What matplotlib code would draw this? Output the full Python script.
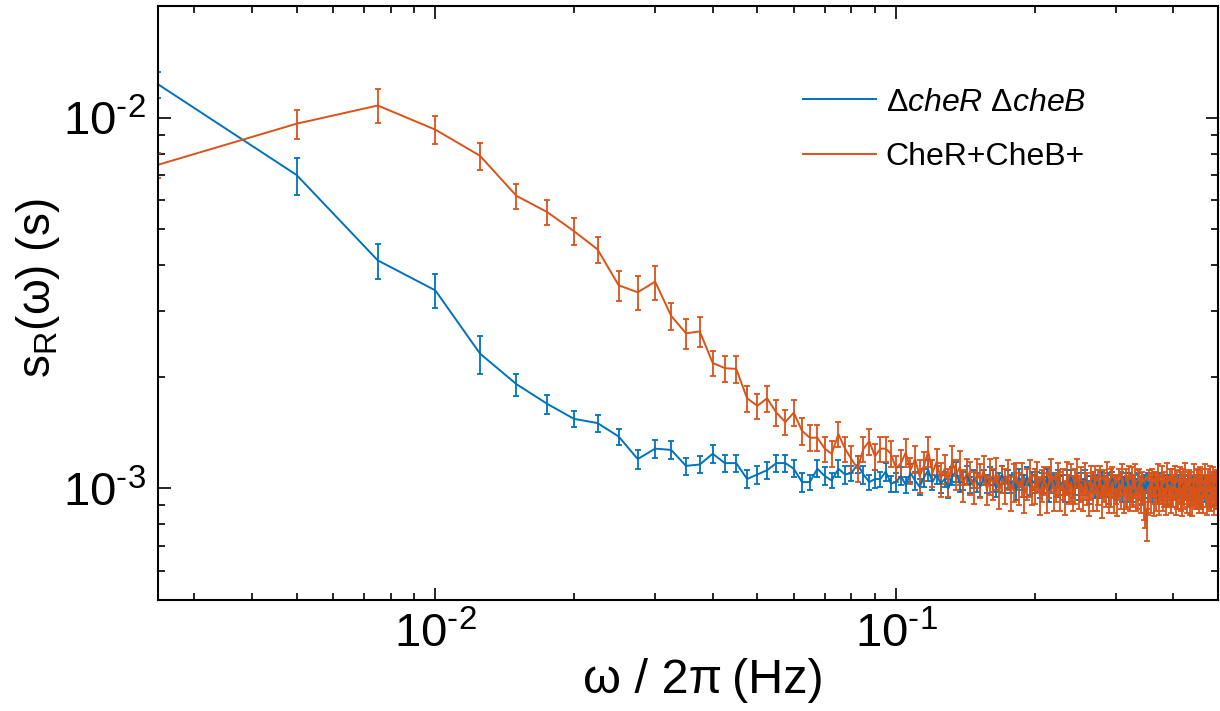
#!/usr/bin/env python3
"""
Response spectra s_R(omega) for the two strains, log-log with error bars.
"""

import numpy as np
import matplotlib
matplotlib.use('Agg')
import matplotlib.pyplot as plt
from matplotlib.ticker import FuncFormatter, NullFormatter

# frequency grid: omega/2pi = k * 0.0025 Hz, k = 1..200
FREQ_STEP = 0.0025
N_BINS = 200

# spectra and errors, in units of 1e-3 s
UNIT = 1e-3

delta_mean = [
    12.3, 7.00, 4.12, 3.42, 2.31, 1.91, 1.69, 1.54, 1.50, 1.38,
    1.20, 1.28, 1.27, 1.15, 1.16, 1.24, 1.17, 1.17, 1.06, 1.09,
    1.12, 1.17, 1.17, 1.13, 1.04, 1.04, 1.13, 1.08, 1.05, 1.13,
    1.09, 1.10, 1.16, 1.09, 1.04, 1.06, 1.06, 1.11, 1.03, 1.04,
    1.08, 1.02, 1.10, 1.05, 1.01, 1.07, 1.12, 1.04, 1.09, 1.03,
    1.06, 1.00, 1.08, 1.11, 1.03, 1.05, 1.09, 1.02, 1.06, 1.04,
    1.01, 1.07, 1.03, 1.08, 1.05, 1.00, 1.04, 1.09, 1.02, 1.06,
    1.03, 1.05, 0.99, 1.07, 1.04, 1.02, 1.08, 1.01, 1.05, 1.03,
    1.06, 1.00, 1.04, 1.02, 1.07, 0.99, 1.03, 1.05, 1.01, 1.06,
    1.02, 1.04, 0.98, 1.05, 1.03, 1.07, 1.00, 1.02, 1.05, 0.99,
    1.04, 1.01, 1.06, 1.02, 0.98, 1.03, 1.05, 1.00, 1.04, 1.01,
    0.99, 1.05, 1.02, 1.00, 1.04, 0.98, 1.03, 1.06, 1.01, 0.99,
    1.03, 1.00, 1.05, 0.98, 1.02, 1.04, 0.99, 1.01, 1.05, 1.00,
    0.98, 1.03, 1.01, 1.04, 0.99, 1.02, 0.97, 1.03, 1.00, 1.02,
    1.04, 0.99, 1.01, 0.98, 1.03, 1.00, 1.02, 0.97, 1.04, 1.00,
    0.99, 1.02, 1.00, 1.03, 0.97, 1.01, 1.04, 0.99, 1.00, 1.02,
    0.98, 1.01, 1.03, 0.99, 1.00, 1.02, 0.97, 1.01, 1.03, 0.99,
    1.00, 0.98, 1.02, 1.01, 0.97, 1.03, 0.99, 1.00, 1.02, 0.98,
    1.01, 0.99, 1.03, 0.97, 1.00, 1.02, 0.98, 1.01, 0.99, 1.02,
    0.97, 1.00, 1.03, 0.99, 1.01, 0.98, 1.02, 1.00, 0.99, 1.01,
]
delta_err = [
    1.00, 0.80, 0.45, 0.36, 0.27, 0.13, 0.10, 0.08, 0.08, 0.07,
    0.07, 0.07, 0.07, 0.06, 0.06, 0.07, 0.06, 0.06, 0.06, 0.06,
    0.06, 0.06, 0.06, 0.06, 0.06, 0.05, 0.06, 0.06, 0.05, 0.06,
    0.06, 0.05, 0.06, 0.06, 0.05, 0.06, 0.05, 0.06, 0.05, 0.06,
    0.06, 0.05, 0.06, 0.06, 0.05, 0.06, 0.07, 0.05, 0.06, 0.06,
    0.05, 0.06, 0.06, 0.07, 0.05, 0.06, 0.06, 0.05, 0.06, 0.06,
    0.06, 0.05, 0.06, 0.06, 0.07, 0.05, 0.06, 0.06, 0.05, 0.06,
    0.06, 0.05, 0.06, 0.06, 0.05, 0.07, 0.06, 0.05, 0.06, 0.06,
    0.05, 0.06, 0.06, 0.05, 0.06, 0.07, 0.06, 0.05, 0.06, 0.06,
    0.06, 0.05, 0.06, 0.07, 0.06, 0.05, 0.06, 0.06, 0.05, 0.06,
    0.06, 0.05, 0.06, 0.06, 0.07, 0.05, 0.06, 0.06, 0.05, 0.06,
    0.05, 0.06, 0.06, 0.05, 0.06, 0.07, 0.06, 0.05, 0.06, 0.06,
    0.06, 0.05, 0.06, 0.06, 0.05, 0.06, 0.07, 0.06, 0.05, 0.06,
    0.06, 0.06, 0.05, 0.06, 0.06, 0.05, 0.07, 0.06, 0.06, 0.05,
    0.06, 0.05, 0.06, 0.06, 0.07, 0.06, 0.05, 0.06, 0.06, 0.05,
    0.06, 0.06, 0.05, 0.06, 0.07, 0.06, 0.05, 0.06, 0.06, 0.06,
    0.05, 0.06, 0.06, 0.05, 0.06, 0.07, 0.06, 0.05, 0.06, 0.06,
    0.06, 0.05, 0.06, 0.06, 0.07, 0.05, 0.06, 0.06, 0.05, 0.06,
    0.06, 0.05, 0.06, 0.07, 0.06, 0.05, 0.06, 0.06, 0.05, 0.06,
    0.07, 0.06, 0.05, 0.06, 0.06, 0.05, 0.06, 0.06, 0.07, 0.05,
]

wt_mean = [
    7.46, 9.63, 10.78, 9.28, 7.89, 6.15, 5.56, 4.94, 4.41, 3.53,
    3.38, 3.61, 2.92, 2.62, 2.65, 2.18, 2.11, 2.10, 1.75, 1.67,
    1.75, 1.60, 1.51, 1.60, 1.43, 1.37, 1.37, 1.28, 1.24, 1.40,
    1.28, 1.20, 1.13, 1.28, 1.34, 1.22, 1.28, 1.28, 1.24, 1.13,
    1.17, 1.25, 1.12, 1.20, 1.08, 1.15, 1.26, 1.10, 1.18, 1.06,
    1.13, 1.04, 1.19, 1.09, 1.14, 1.02, 1.11, 1.07, 1.01, 1.10,
    1.05, 1.12, 0.99, 1.08, 1.03, 1.10, 0.98, 1.06, 1.02, 1.09,
    0.97, 1.04, 1.08, 1.00, 1.06, 0.96, 1.03, 1.07, 0.99, 1.02,
    1.08, 0.96, 1.02, 1.05, 0.98, 1.04, 1.09, 0.97, 1.01, 1.06,
    0.99, 1.03, 0.95, 1.07, 1.00, 1.04, 0.97, 1.02, 1.10, 0.98,
    1.03, 0.96, 1.05, 1.00, 0.94, 1.04, 0.99, 1.06, 0.97, 1.01,
    1.05, 0.95, 1.02, 0.98, 1.07, 0.96, 1.01, 1.04, 0.97, 1.00,
    0.96, 1.03, 0.99, 1.06, 0.95, 1.01, 0.98, 1.04, 0.97, 1.02,
    0.99, 1.05, 0.96, 1.00, 1.03, 0.97, 1.01, 0.94, 0.88, 0.80,
    0.96, 1.02, 0.98, 1.04, 0.95, 1.01, 0.99, 1.06, 0.96, 1.00,
    1.03, 0.97, 1.00, 0.95, 1.05, 0.98, 1.02, 0.96, 1.01, 0.99,
    1.04, 0.95, 1.00, 0.97, 1.03, 0.99, 0.94, 1.02, 0.98, 1.05,
    0.96, 1.00, 1.03, 0.97, 1.01, 0.95, 1.04, 0.99, 0.97, 1.02,
    1.00, 0.96, 1.03, 0.98, 1.01, 0.95, 1.05, 0.99, 0.97, 1.02,
    0.98, 1.03, 0.96, 1.00, 1.04, 0.97, 1.01, 0.99, 1.02, 1.00,
]
wt_err = [
    0.58, 0.87, 1.13, 0.79, 0.67, 0.48, 0.43, 0.42, 0.36, 0.32,
    0.35, 0.38, 0.25, 0.25, 0.24, 0.17, 0.17, 0.17, 0.14, 0.13,
    0.14, 0.13, 0.12, 0.13, 0.12, 0.11, 0.11, 0.10, 0.10, 0.11,
    0.10, 0.10, 0.09, 0.10, 0.11, 0.10, 0.10, 0.10, 0.10, 0.09,
    0.10, 0.11, 0.09, 0.10, 0.11, 0.10, 0.12, 0.09, 0.10, 0.11,
    0.10, 0.09, 0.11, 0.10, 0.12, 0.10, 0.09, 0.11, 0.10, 0.10,
    0.11, 0.10, 0.09, 0.12, 0.10, 0.11, 0.10, 0.09, 0.11, 0.10,
    0.10, 0.12, 0.09, 0.10, 0.11, 0.10, 0.10, 0.12, 0.09, 0.11,
    0.10, 0.11, 0.10, 0.09, 0.12, 0.10, 0.11, 0.10, 0.09, 0.11,
    0.12, 0.10, 0.10, 0.11, 0.09, 0.12, 0.10, 0.11, 0.10, 0.10,
    0.11, 0.09, 0.12, 0.10, 0.10, 0.11, 0.12, 0.09, 0.10, 0.11,
    0.10, 0.12, 0.10, 0.09, 0.11, 0.10, 0.12, 0.10, 0.11, 0.09,
    0.12, 0.10, 0.11, 0.10, 0.09, 0.12, 0.10, 0.11, 0.10, 0.12,
    0.10, 0.11, 0.09, 0.12, 0.10, 0.11, 0.10, 0.12, 0.10, 0.08,
    0.11, 0.10, 0.12, 0.09, 0.11, 0.10, 0.12, 0.10, 0.11, 0.09,
    0.12, 0.10, 0.11, 0.10, 0.12, 0.09, 0.11, 0.10, 0.12, 0.10,
    0.11, 0.10, 0.12, 0.09, 0.11, 0.12, 0.10, 0.11, 0.10, 0.12,
    0.10, 0.11, 0.09, 0.12, 0.10, 0.11, 0.12, 0.10, 0.09, 0.11,
    0.12, 0.10, 0.11, 0.10, 0.12, 0.09, 0.11, 0.10, 0.12, 0.11,
    0.10, 0.12, 0.09, 0.11, 0.10, 0.12, 0.10, 0.11, 0.10, 0.12,
]

labels = ['Δ$\\mathit{cheR}$ Δ$\\mathit{cheB}$', 'CheR+CheB+']
colors = ['#0072BD', '#D95319']

plt.rcParams['font.family'] = ['Liberation Sans', 'DejaVu Sans']
plt.rcParams['mathtext.fontset'] = 'custom'
plt.rcParams['mathtext.rm'] = 'Liberation Sans'
plt.rcParams['mathtext.it'] = 'Liberation Sans:italic'
plt.rcParams['mathtext.default'] = 'regular'


def pow10_label(v, pos):
    # MATLAB-style 10^-n with a short hyphen in the exponent
    e = int(round(np.log10(v)))
    if e < 0:
        return '10$^{\\text{-}%d}$' % (-e)
    return '10$^{%d}$' % e


def make_plot():
    freq = FREQ_STEP * np.arange(1, N_BINS + 1)

    fig = plt.figure(figsize=(12.2, 7.11), dpi=100)
    ax = fig.add_axes([158 / 1220, 1 - 600 / 711, 1060 / 1220, 594 / 711])

    handles = []
    for mean, err, col in [(delta_mean, delta_err, colors[0]),
                           (wt_mean, wt_err, colors[1])]:
        eb = ax.errorbar(freq, np.array(mean) * UNIT, yerr=np.array(err) * UNIT,
                         color=col, lw=1.4, elinewidth=1.3, capsize=2.2,
                         capthick=1.3)
        handles.append(eb[0])

    ax.set_xscale('log')
    ax.set_yscale('log')
    ax.set_xlim(0.0025, 0.5)
    ax.set_ylim(5e-4, 2e-2)

    for axis in (ax.xaxis, ax.yaxis):
        axis.set_major_formatter(FuncFormatter(pow10_label))
        axis.set_minor_formatter(NullFormatter())

    ax.tick_params(which='both', direction='in', top=True, right=True,
                   width=1.2, labelsize=34)
    ax.tick_params(which='major', length=9, pad=9)
    ax.tick_params(which='minor', length=5)
    for sp in ax.spines.values():
        sp.set_linewidth(1.5)

    ax.set_xlabel('ω / 2π\u2009(Hz)', fontsize=35)
    ax.xaxis.set_label_coords(0.514, -0.097, transform=ax.transAxes)
    ax.xaxis.label.set_va('top')
    ax.set_ylabel('s$_{R}$(ω) (s)', fontsize=33)
    ax.yaxis.set_label_coords(-0.0906, 0.525, transform=ax.transAxes)

    ax.legend(handles, labels, loc='upper left', bbox_to_anchor=(0.581, 0.911),
              frameon=False, fontsize=23, handlelength=2.3, handletextpad=0.3,
              labelspacing=0.77)

    fig.savefig('out.png', dpi=100)
    plt.close(fig)


if __name__ == '__main__':
    make_plot()
